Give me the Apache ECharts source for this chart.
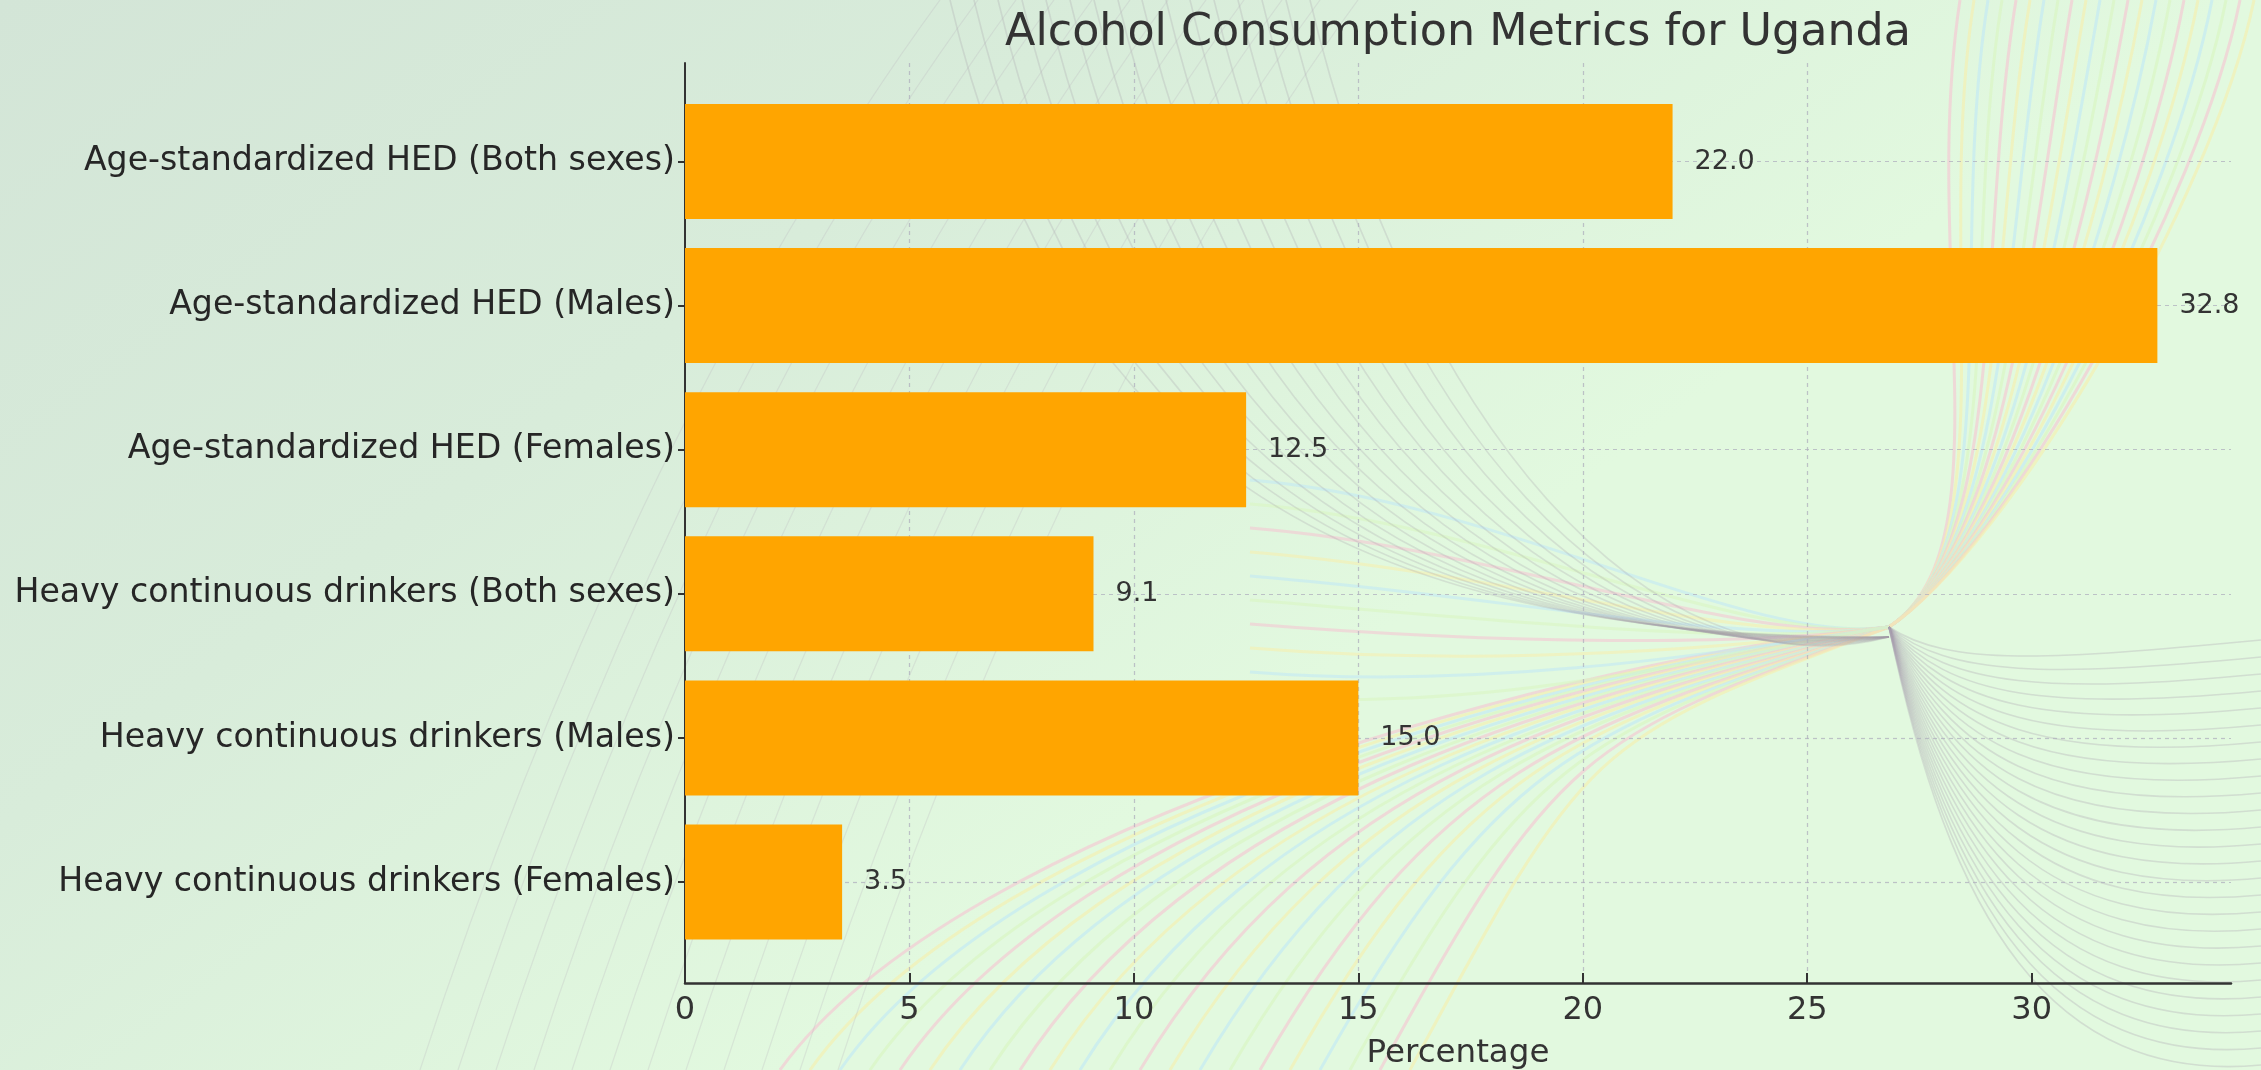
<!DOCTYPE html>
<html>
<head>
<meta charset="utf-8">
<script src="https://cdn.jsdelivr.net/npm/echarts@6/dist/echarts.min.js"></script>
<style>
html,body{margin:0;padding:0;}
#c{width:2261px;height:1070px;}
</style>
</head>
<body>
<div id="c"></div>
<script>
var categories = [
  "Age-standardized HED (Both sexes)",
  "Age-standardized HED (Males)",
  "Age-standardized HED (Females)",
  "Heavy continuous drinkers (Both sexes)",
  "Heavy continuous drinkers (Males)",
  "Heavy continuous drinkers (Females)"
];
var values = [22.0, 32.8, 12.5, 9.1, 15.0, 3.5];
var xTicks = [0, 5, 10, 15, 20, 25, 30];
var xMax = 34.44;

var FONT = "DejaVu Sans";
var chart = echarts.init(document.getElementById('c'), null, {renderer: 'canvas'});
var gridLeft = 685, gridWidth = 1546;

// decorative background curves (not data)
var deco = [];
function curve(x1, y1, cx1, cy1, cx2, cy2, x2, y2, color, w, op) {
  deco.push({
    type: 'bezierCurve', silent: true, z: -10,
    shape: {x1: x1, y1: y1, cpx1: cx1, cpy1: cy1, cpx2: cx2, cpy2: cy2, x2: x2, y2: y2},
    style: {fill: null, stroke: color, lineWidth: w, opacity: op}
  });
}
var P = [1889, 627];
var pastel = ['#f6c3d2', '#f7efab', '#bfe7f6', '#d8f5c0'];
for (var i = 0; i < 22; i++) {
  var x0 = 780 + i * 30;
  var x1 = 1960 + i * 14;
  curve(x0, 1070, x0 + 180, 820 - i * 4, P[0] - 300, P[1] + 30 + i * 4, P[0], P[1], pastel[i % 4], 3, 0.6);
  curve(P[0], P[1], P[0] + 120, P[1] - 80, x1 - 40, 260 - i * 3, x1, 0, pastel[i % 4], 3, 0.6);
}
for (var j = 0; j < 10; j++) {
  var y0 = 480 + j * 24;
  curve(1250, y0, 1500, y0 + 20, 1750, P[1] + 20, P[0], P[1], pastel[(j + 2) % 4], 3, 0.55);
}
for (var k = 0; k < 26; k++) {
  var ye = 660 + k * 17;
  curve(P[0], P[1], P[0] + 60, P[1] + 40 + k * 10, 2050, ye, 2261, ye - 20, '#a9a0ae', 1.6, 0.3);
}
for (var m = 0; m < 16; m++) {
  var xs = 1250 + m * 24;
  curve(xs - 300, 0, xs - 200, 420, xs + 40, 640 + m * 4, P[0], P[1] + 10, '#a59aa8', 1.6, 0.25);
}
for (var n = 0; n < 12; n++) {
  var xl = 420 + n * 38;
  curve(xl, 1070, xl + 120, 700, xl + 300, 300, xl + 520, 0, '#b9b0bd', 1.2, 0.25);
}

var option = {
  backgroundColor: {
    type: 'linear', x: 0, y: 0, x2: 0.35, y2: 1,
    colorStops: [
      {offset: 0, color: '#d3e5d7'},
      {offset: 0.5, color: '#d8ecda'},
      {offset: 1, color: '#e2f9df'}
    ]
  },
  animation: false,
  graphic: deco,
  title: {
    text: 'Alcohol Consumption Metrics for Uganda',
    left: 1458, top: 11, textAlign: 'center', padding: 0,
    textStyle: {fontFamily: FONT, fontSize: 44.4, fontWeight: 'normal', color: '#333333'}
  },
  grid: [
    {left: gridLeft, width: gridWidth, top: 161.5, height: 720.5, containLabel: false, outerBoundsMode: 'none'},
    {left: gridLeft, width: gridWidth, top: 63, height: 920, containLabel: false, outerBoundsMode: 'none'}
  ],
  xAxis: [
    {gridIndex: 0, type: 'value', min: 0, max: xMax, show: false},
    {gridIndex: 1, type: 'value', min: 0, max: xMax, interval: 5,
      name: 'Percentage', nameLocation: 'middle', nameGap: 54,
      nameTextStyle: {fontFamily: FONT, fontSize: 32.5, color: '#333333'},
      axisLine: {show: true, lineStyle: {color: '#333333', width: 2.5}},
      axisTick: {show: true, inside: true, length: 10, customValues: xTicks, lineStyle: {color: '#333333', width: 2}},
      axisLabel: {show: true, customValues: xTicks, margin: 12, fontFamily: FONT, fontSize: 32, color: '#333333'},
      splitLine: {show: true, showMinLine: false, showMaxLine: false, lineStyle: {type: [4, 4], color: 'rgba(175,175,190,0.75)', width: 1.2}}
    }
  ],
  yAxis: [
    {gridIndex: 0, type: 'category', data: categories, inverse: true, boundaryGap: false,
      axisLine: {show: false},
      axisTick: {show: true, length: 7, lineStyle: {color: '#333333', width: 2}},
      axisLabel: {margin: 10, fontFamily: FONT, fontSize: 33.2, color: '#262626'},
      splitLine: {show: true, lineStyle: {type: [4, 4], color: 'rgba(175,175,190,0.75)', width: 1.2}}
    },
    {gridIndex: 1, type: 'value', min: 0, max: 1,
      axisLine: {show: true, lineStyle: {color: '#333333', width: 2}},
      axisTick: {show: false}, axisLabel: {show: false}, splitLine: {show: false}
    }
  ],
  series: [{
    type: 'bar',
    xAxisIndex: 0, yAxisIndex: 0,
    data: values,
    barWidth: 115,
    clip: false,
    itemStyle: {color: '#FFA500'},
    label: {
      show: true, position: 'right', distance: 22,
      fontFamily: FONT, fontSize: 27, color: '#333333',
      formatter: function (p) { return p.value.toFixed(1); }
    }
  }]
};
chart.setOption(option);
</script>
</body>
</html>
